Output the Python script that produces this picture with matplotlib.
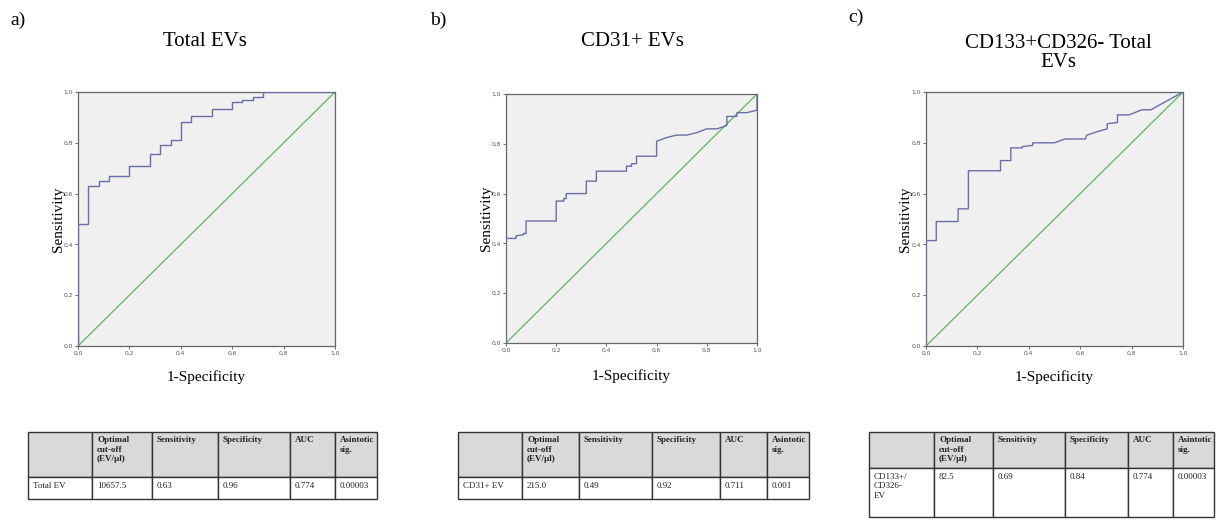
import matplotlib
matplotlib.use("Agg")
import matplotlib.pyplot as plt
from matplotlib.patches import Rectangle

# ---------------- data ----------------
panel_letters = ["a)", "b)", "c)"]
panel_titles = ["Total EVs", "CD31+ EVs", "CD133+CD326- Total\nEVs"]

fpr_a = [0, 0, 0.04, 0.04, 0.08, 0.08, 0.12, 0.12, 0.20, 0.20, 0.28, 0.28, 0.32, 0.32,
         0.36, 0.36, 0.40, 0.40, 0.44, 0.44, 0.52, 0.52, 0.60, 0.60, 0.64, 0.64,
         0.68, 0.68, 0.72, 0.72, 1.0]
tpr_a = [0, 0.48, 0.48, 0.63, 0.63, 0.65, 0.65, 0.67, 0.67, 0.71, 0.71, 0.755, 0.755, 0.79,
         0.79, 0.81, 0.81, 0.88, 0.88, 0.905, 0.905, 0.935, 0.935, 0.96, 0.96, 0.97,
         0.97, 0.98, 0.98, 1.0, 1.0]

fpr_b = [0, 0, 0.04, 0.04, 0.07, 0.07, 0.08, 0.08, 0.20, 0.20, 0.23, 0.23, 0.24, 0.24, 0.32, 0.32,
         0.36, 0.36, 0.48, 0.48, 0.50, 0.50, 0.52, 0.52, 0.60, 0.60, 0.64, 0.68, 0.72,
         0.76, 0.80, 0.84, 0.87, 0.88, 0.88, 0.92, 0.92, 0.96, 1.0, 1.0]
tpr_b = [0, 0.42, 0.42, 0.43, 0.435, 0.44, 0.44, 0.49, 0.49, 0.57, 0.57, 0.58, 0.58, 0.60, 0.60, 0.65,
         0.65, 0.69, 0.69, 0.71, 0.71, 0.72, 0.72, 0.75, 0.75, 0.81, 0.825, 0.835, 0.835,
         0.845, 0.86, 0.86, 0.87, 0.875, 0.91, 0.91, 0.925, 0.925, 0.935, 1.0]

fpr_c = [0, 0, 0.04, 0.04, 0.125, 0.125, 0.165, 0.165, 0.29, 0.29, 0.33, 0.33, 0.375, 0.375,
         0.415, 0.415, 0.50, 0.54, 0.62, 0.625, 0.67, 0.705, 0.705, 0.745, 0.745, 0.79,
         0.84, 0.875, 1.0]
tpr_c = [0, 0.415, 0.415, 0.49, 0.49, 0.54, 0.54, 0.69, 0.69, 0.73, 0.73, 0.78, 0.78, 0.785,
         0.79, 0.80, 0.80, 0.815, 0.815, 0.83, 0.845, 0.855, 0.875, 0.88, 0.91, 0.91,
         0.93, 0.93, 1.0]

tick_values = [0.0, 0.2, 0.4, 0.6, 0.8, 1.0]
tick_labels = ["0,0", "0,2", "0,4", "0,6", "0,8", "1,0"]
xlabel = "1-Specificity"
ylabel = "Sensitivity"

table_header = ["", "Optimal\ncut-off\n(EV/µl)", "Sensitivity", "Specificity", "AUC", "Asintotic\nsig."]
row_a = ["Total EV", "10657.5", "0.63", "0.96", "0.774", "0.00003"]
row_b = ["CD31+ EV", "215.0", "0.49", "0.92", "0.711", "0.001"]
row_c = ["CD133+/\nCD326-\nEV", "82.5", "0.69", "0.84", "0.774", "0.00003"]

# ---------------- layout ----------------
W, H = 1231, 522
fig = plt.figure(figsize=(W / 100, H / 100), dpi=100)
serif = ["Liberation Serif", "DejaVu Serif"]

def fbox(x0, y0, x1, y1):
    return [x0 / W, 1 - y1 / H, (x1 - x0) / W, (y1 - y0) / H]

axes_px = [(78, 92, 335, 346), (506, 94, 757, 343), (926, 92, 1183, 346)]
ylabel_px = [58, 486, 906]
xlabel_px = [377, 376, 377]
curves = [(fpr_a, tpr_a), (fpr_b, tpr_b), (fpr_c, tpr_c)]
letter_pos = [(10, 20), (430, 20), (848, 17)]
title_pos = [(205, 42), (632, 42), (1058, 53)]

for i in range(3):
    x0, y0, x1, y1 = axes_px[i]
    ax = fig.add_axes(fbox(*axes_px[i]))
    ax.set_facecolor("#F0F0F0")
    fx, ty = curves[i]
    ax.plot([0, 1], [0, 1], color="#5CB85C", lw=0.9, zorder=2)
    ax.plot(fx, ty, color="#6A6EA8", lw=1.0, zorder=3)
    ax.set_xlim(0, 1)
    ax.set_ylim(0, 1)
    ax.set_xticks(tick_values)
    ax.set_xticklabels(tick_labels)
    ax.set_yticks(tick_values)
    ax.set_yticklabels(tick_labels)
    ax.tick_params(labelsize=4.3, labelcolor="#555555", color="#555555",
                   length=2.5, width=0.6, pad=1)
    for s in ax.spines.values():
        s.set_color("#666666")
        s.set_linewidth(0.9)
    ax.set_xlabel(xlabel, family=serif, fontsize=11)
    ax.xaxis.set_label_coords(0.5, -(xlabel_px[i] - y1) / (y1 - y0))
    ax.xaxis.label.set_va("center")
    ax.set_ylabel(ylabel, family=serif, fontsize=11)
    ax.yaxis.set_label_coords((ylabel_px[i] - x0) / (x1 - x0), 0.5)
    ax.yaxis.label.set_va("center")

    lx, ly = letter_pos[i]
    fig.text(lx / W, 1 - ly / H, panel_letters[i], family=serif, fontsize=14,
             ha="left", va="center")
    tx, tyy = title_pos[i]
    fig.text(tx / W, 1 - tyy / H, panel_titles[i], family=serif, fontsize=15,
             ha="center", va="center", linespacing=1.0)

# ---------------- tables ----------------
tables = [
    (row_a, [28, 92, 152, 218, 290, 335, 377], (432, 477, 499)),
    (row_b, [458, 522, 579, 652, 720, 767, 809], (432, 477, 499)),
    (row_c, [869, 934, 993, 1065, 1128, 1173, 1214], (432, 468, 517)),
]

tax = fig.add_axes([0, 0, 1, 1])
tax.set_xlim(0, W)
tax.set_ylim(H, 0)
tax.axis("off")
for row, cols, (ytop, ymid, ybot) in tables:
    for j in range(len(cols) - 1):
        x0, x1 = cols[j], cols[j + 1]
        tax.add_patch(Rectangle((x0, ytop), x1 - x0, ymid - ytop, facecolor="#D9D9D9",
                                edgecolor="#333333", lw=1.0))
        tax.add_patch(Rectangle((x0, ymid), x1 - x0, ybot - ymid, facecolor="white",
                                edgecolor="#333333", lw=1.0))
        tax.text(x0 + 5, ytop + 4, table_header[j], family=serif, fontsize=6.5,
                 fontweight="bold", ha="left", va="top", multialignment="left",
                 linespacing=1.25, color="#222222")
        tax.text(x0 + 5, ymid + 5, row[j], family=serif, fontsize=6.5,
                 ha="left", va="top", multialignment="left",
                 linespacing=1.25, color="#222222")

fig.savefig("out.png", dpi=100)
